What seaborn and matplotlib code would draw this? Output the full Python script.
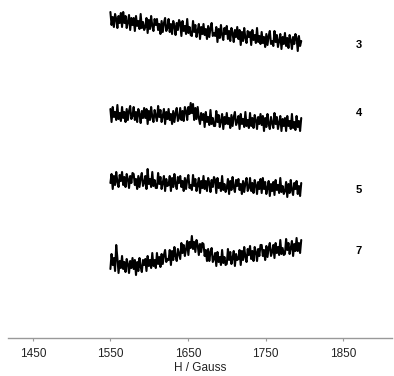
import numpy as np
import pandas as pd
import matplotlib
matplotlib.use('Agg')
import matplotlib.pyplot as plt
import seaborn as sns

# field sweep of the recorded spectra (Gauss)
field = np.linspace(1550, 1796, 165)

# spectrum labels and vertical stacking offsets
labels = ['3', '4', '5', '7']
offsets = [-19, -114, -180, -263]
label_y = [-45, -113, -190, -251]

# intensities (arbitrary units)
spec_3 = [7, -6, 2, -8, 5, 0, -9, 3, -4, 6,
          -8, 7, -4, 3, -9, -3, 4, -11, 1, -6,
          1, -12, 3, -7, -2, -10, 5, -9, -3, -11,
          -8, 1, -14, -1, -10, 3, -7, -12, 0, -6,
          0, -11, -5, -15, -2, -13, -4, 1, -12, -9,
          0, -13, -5, -15, -2, -7, -16, -4, -11, -1,
          -4, -17, -2, -12, -7, -15, 0, -14, -8, -16,
          -17, -2, -13, -6, -18, -12, -5, -20, -8, -15,
          -5, -16, -10, -20, -7, -18, -9, -4, -17, -14,
          -17, -8, -23, -10, -19, -6, -16, -21, -9, -15,
          -7, -20, -12, -22, -9, -14, -23, -11, -18, -8,
          -20, -11, -26, -13, -22, -9, -19, -24, -12, -18,
          -13, -26, -11, -21, -16, -24, -9, -23, -17, -25,
          -13, -24, -18, -28, -15, -26, -17, -12, -25, -22,
          -27, -12, -23, -16, -28, -22, -15, -30, -18, -25,
          -14, -27, -19, -29, -16, -21, -30, -18, -25, -15,
          -19, -32, -17, -27, -22]
spec_4 = [5, -8, 7, -3, 2, -6, 9, -5, 1, -7,
          7, -4, 2, -8, 5, -6, 3, 8, -5, -2,
          7, -6, 2, -8, 5, 0, -9, 3, -4, 6,
          -4, 5, -10, 3, -6, 7, -3, -8, 4, -2,
          -7, 8, -3, 4, -8, -2, 5, -10, 2, -5,
          5, -6, 0, -10, 3, -8, 1, 6, -7, -4,
          6, -6, 3, -7, 7, 3, -6, 7, 0, 11,
          1, 10, -6, 6, -5, 7, -4, -10, 1, -6,
          0, -13, 2, -8, -3, -11, 4, -10, -4, -12,
          -12, 3, -8, -1, -13, -7, 0, -15, -3, -10,
          1, -10, -4, -14, -1, -12, -3, 2, -11, -8,
          -2, -15, 0, -10, -5, -13, 2, -12, -6, -14,
          1, -12, -4, -14, -1, -6, -15, -3, -10, 0,
          -11, -2, -17, -4, -13, 0, -10, -15, -3, -9,
          -14, 1, -10, -3, -15, -9, -2, -17, -5, -12,
          -4, -17, -2, -12, -7, -15, 0, -14, -8, -16,
          -2, -13, -7, -17, -4]
spec_5 = [-3, 6, -9, 4, -5, 8, -2, -7, 5, -1,
          8, -5, 3, -7, 6, 1, -8, 4, -3, 7,
          6, -5, 1, -9, 4, -7, 2, 7, -6, -3,
          4, -9, 11, -4, 1, -7, 8, -6, 0, -8,
          -8, 7, -4, 3, -9, -3, 4, -11, 1, -6,
          -5, 4, -11, 2, -7, 6, -4, -9, 3, -3,
          4, -7, -1, -11, 2, -9, 0, 5, -8, -5,
          -10, 5, -6, 1, -11, -5, 2, -13, -1, -8,
          4, -9, -1, -11, 2, -3, -12, 0, -7, 3,
          0, -13, 2, -8, -3, -11, 4, -10, -4, -12,
          -8, 1, -14, -1, -10, 3, -7, -12, 0, -6,
          1, -10, -4, -14, -1, -12, -3, 2, -11, -8,
          2, -11, -3, -13, 0, -5, -14, -2, -9, 1,
          -13, 2, -9, -2, -14, -8, -1, -16, -4, -11,
          -2, -15, 0, -10, -5, -13, 2, -12, -6, -14,
          -11, -2, -17, -4, -13, 0, -10, -15, -3, -9,
          -1, -14, -6, -16, -3]
spec_7 = [-6, 9, -2, 5, -8, 18, 5, -10, 2, -5,
          7, -6, 1, -9, 4, -1, -10, 2, -5, 5,
          -6, 3, -12, 1, -8, 5, -4, -9, 3, -2,
          4, -8, 7, -3, 3, -5, 10, -3, 3, -5,
          10, -1, 6, -4, 9, -1, 8, 13, 1, 4,
          3, 13, -2, 12, 3, 16, 7, 2, 14, 9,
          4, 20, 10, 18, 7, 14, 22, 8, 21, 15,
          27, 14, 21, 11, 23, 18, 8, 19, 11, 20,
          19, 7, 13, 2, 14, 2, 11, 15, 1, 4,
          10, -3, 11, 1, 6, -2, 13, 0, 6, -2,
          -1, 14, 3, 11, -1, 5, 12, -3, 9, 3,
          4, 13, -2, 12, 3, 16, 6, 1, 14, 8,
          17, 4, 12, 2, 16, 11, 2, 14, 7, 18,
          18, 7, 13, 3, 17, 6, 15, 20, 7, 11,
          18, 5, 20, 10, 16, 8, 23, 9, 15, 8,
          9, 24, 13, 20, 9, 15, 22, 7, 19, 12,
          25, 12, 20, 10, 23]

spectra = [spec_3, spec_4, spec_5, spec_7]

sns.set_theme(style='white')
plt.rcParams['font.family'] = ['Liberation Sans', 'DejaVu Sans']

fig = plt.figure(figsize=(3.94, 3.76), dpi=100)
ax = fig.add_axes([8 / 394, 38 / 376, 384 / 394, 338 / 376])

for lab, off, spec in zip(labels, offsets, spectra):
    df = pd.DataFrame({'H': field, 'I': np.array(spec) + off})
    sns.lineplot(data=df, x='H', y='I', color='black', linewidth=1.5, ax=ax,
                 estimator=None, sort=False)

for lab, ly in zip(labels, label_y):
    ax.text(1870, ly, lab, ha='center', va='center', fontsize=8,
            fontweight='bold', color='black')

ax.set_xlim(1418, 1913)
ax.set_ylim(-338, 0)
ax.set_xticks([1450, 1550, 1650, 1750, 1850])
ax.set_yticks([])
ax.set_ylabel('')
ax.set_xlabel('H / Gauss', fontsize=8.5, color='#222222', labelpad=1)
for side in ['top', 'left', 'right']:
    ax.spines[side].set_visible(False)
ax.spines['bottom'].set_color('#999999')
ax.spines['bottom'].set_linewidth(1.0)
ax.tick_params(axis='x', bottom=True, direction='out', length=2.5, width=0.8,
               color='#999999', labelsize=8.5, labelcolor='#222222', pad=5)

fig.savefig('out.png', dpi=100)
